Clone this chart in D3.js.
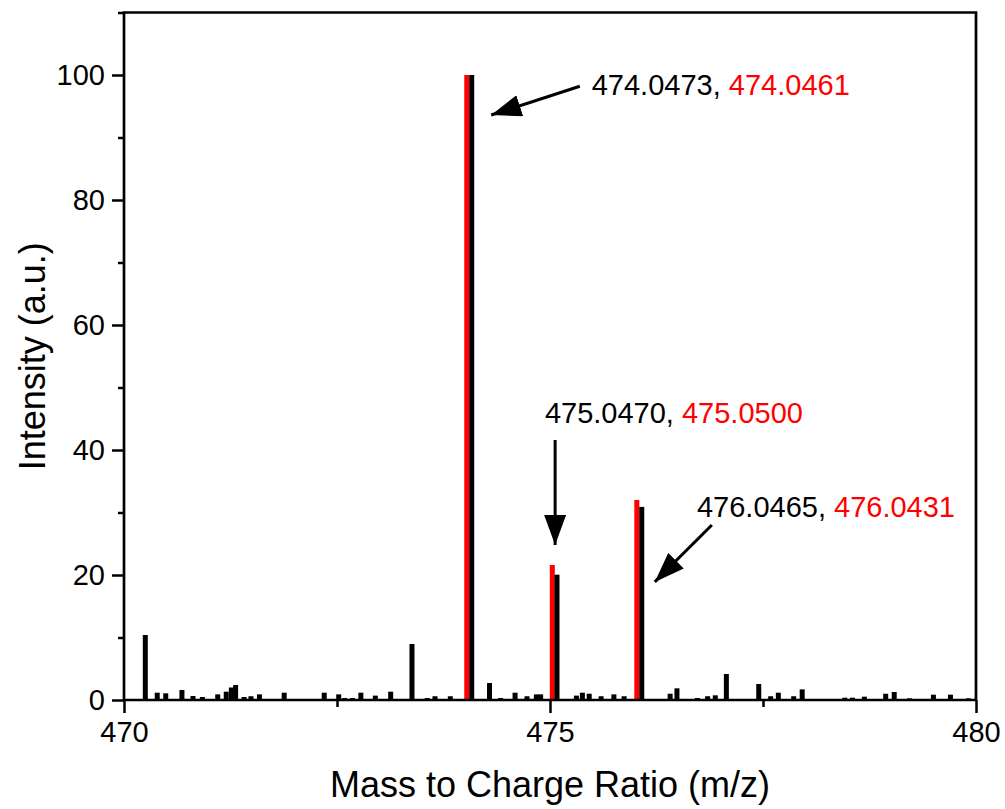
<!DOCTYPE html>
<html>
<head>
<meta charset="utf-8">
<script src="https://cdn.jsdelivr.net/npm/d3@7"></script>
<style>
  body { margin: 0; background: #fff; }
  svg { display: block; font-family: "Liberation Sans", Arial, sans-serif; }
</style>
</head>
<body>
<div class="main"></div>
<script>
// measured spectrum (black) - small peaks
var noiseMz = [470.25, 470.39, 470.49, 470.68, 470.81, 470.92, 471.10, 471.20, 471.26, 471.31,
    471.41, 471.49, 471.59, 471.88, 472.35, 472.52, 472.59, 472.68, 472.78, 472.95,
    473.13, 473.38, 473.56, 473.65, 473.83, 474.29, 474.42, 474.59, 474.73, 474.84,
    474.89, 475.31, 475.38, 475.46, 475.60, 475.75, 475.87, 476.41, 476.49, 476.73,
    476.85, 476.94, 477.07, 477.45, 477.59, 477.68, 477.86, 477.96, 478.46, 478.55,
    478.69, 478.94, 479.04, 479.22, 479.50, 479.70, 479.91]
var noiseInt = [10.4, 1.17, 1.07, 1.6, 0.64, 0.48, 0.9, 1.33, 2.0, 2.4,
    0.48, 0.6, 0.9, 1.17, 1.17, 0.9, 0.32, 0.32, 1.17, 0.7,
    1.33, 8.96, 0.32, 0.6, 0.6, 2.72, 0.32, 1.17, 0.6, 0.9,
    0.9, 0.7, 1.17, 1.0, 0.6, 0.9, 0.6, 1.0, 1.87, 0.32,
    0.6, 0.75, 4.16, 2.56, 0.6, 1.17, 0.6, 1.7, 0.37, 0.37,
    0.53, 1.0, 1.28, 0.27, 0.85, 0.85, 0.27]

// isotope peaks: measured (black) and simulated (red)
var expMz = [474.081, 475.082, 476.077]
var expInt = [100, 20.05, 30.9]
var simMz = [474.023, 475.027, 476.019]
var simInt = [100, 21.6, 32]

// annotation labels
var labelExp = ["474.0473", "475.0470", "476.0465"]
var labelSim = ["474.0461", "475.0500", "476.0431"]
var labelPos = [[475.49, 96.8], [474.94, 44.3], [476.725, 29.3]]
var arrowFrom = [[475.35, 98.2], [475.06, 41.6], [476.90, 28.0]]
var arrowTo = [[474.31, 93.6], [475.06, 24.8], [476.23, 18.9]]

var xTicks = [470, 475, 480]
var xMinor = [472.5, 477.5]
var yTicks = [0, 20, 40, 60, 80, 100]
var yMinor = [10, 30, 50, 70, 90, 110]

var width = 1005, height = 809
var mLeft = 124, mRight = 976, mTop = 12.5, mBottom = 700
var barW = 5

var svg = d3.select("div.main").append("svg")
    .attr("width", width)
    .attr("height", height)

var x = d3.scaleLinear().domain([470, 480]).range([mLeft, mRight])
var y = d3.scaleLinear().domain([0, 110]).range([mBottom, mTop])

svg.append("defs").append("marker")
    .attr("id", "head")
    .attr("viewBox", "0 0 30 22")
    .attr("refX", 30).attr("refY", 11)
    .attr("markerWidth", 30).attr("markerHeight", 22)
    .attr("markerUnits", "userSpaceOnUse")
    .attr("orient", "auto")
    .append("path").attr("d", "M0,0L30,11L0,22Z").attr("fill", "black")

// small peaks
svg.append("g").selectAll("rect")
    .data(noiseMz)
    .enter().append("rect")
    .attr("x", function (d) { return x(d) - barW / 2 })
    .attr("width", barW)
    .attr("y", function (d, i) { return y(noiseInt[i]) })
    .attr("height", function (d, i) { return y(0) - y(noiseInt[i]) })
    .attr("fill", "black")

// simulated
svg.append("g").selectAll("rect")
    .data(simMz)
    .enter().append("rect")
    .attr("x", function (d) { return x(d) - barW / 2 })
    .attr("width", barW)
    .attr("y", function (d, i) { return y(simInt[i]) })
    .attr("height", function (d, i) { return y(0) - y(simInt[i]) })
    .attr("fill", "#ff0000")

// measured
svg.append("g").selectAll("rect")
    .data(expMz)
    .enter().append("rect")
    .attr("x", function (d) { return x(d) - barW / 2 })
    .attr("width", barW)
    .attr("y", function (d, i) { return y(expInt[i]) })
    .attr("height", function (d, i) { return y(0) - y(expInt[i]) })
    .attr("fill", "black")

// axes
svg.append("g").attr("transform", "translate(0," + mBottom + ")")
    .call(d3.axisBottom(x).tickValues(xTicks).tickSize(13).tickPadding(8).tickFormat(d3.format("d")))
svg.append("g").attr("transform", "translate(0," + mBottom + ")")
    .call(d3.axisBottom(x).tickValues(xMinor).tickSize(7).tickFormat(""))
svg.append("g").attr("transform", "translate(" + mLeft + ",0)")
    .call(d3.axisLeft(y).tickValues(yTicks).tickSize(12).tickPadding(7))
svg.append("g").attr("transform", "translate(" + mLeft + ",0)")
    .call(d3.axisLeft(y).tickValues(yMinor).tickSize(6).tickFormat(""))

svg.selectAll(".domain").remove()
svg.selectAll(".tick line").attr("stroke", "black").attr("stroke-width", 2.5)
svg.selectAll(".tick text").attr("fill", "black").style("font-size", "29px")
    .style("font-family", "Liberation Sans, Arial, sans-serif")

// frame
svg.append("path")
    .attr("d", "M" + mLeft + "," + mBottom + "V" + mTop + "H" + mRight + "V" + mBottom + "H" + mLeft)
    .attr("fill", "none")
    .attr("stroke", "black")
    .attr("stroke-width", 2.7)

// titles
svg.append("text")
    .attr("x", (mLeft + mRight) / 2)
    .attr("y", 797)
    .attr("text-anchor", "middle")
    .style("font-size", "36px")
    .text("Mass to Charge Ratio (m/z)")

svg.append("text")
    .attr("transform", "translate(45," + ((mTop + mBottom) / 2) + ") rotate(-90)")
    .attr("text-anchor", "middle")
    .style("font-size", "36px")
    .text("Intensity (a.u.)")

// annotations
var ann = svg.append("g").selectAll("text")
    .data(labelPos)
    .enter().append("text")
    .attr("x", function (d) { return x(d[0]) })
    .attr("y", function (d) { return y(d[1]) })
    .style("font-size", "29px")
ann.append("tspan").attr("fill", "black").text(function (d, i) { return labelExp[i] + ", " })
ann.append("tspan").attr("fill", "#ff0000").text(function (d, i) { return labelSim[i] })

svg.append("g").selectAll("line")
    .data(arrowFrom)
    .enter().append("line")
    .attr("x1", function (d) { return x(d[0]) })
    .attr("y1", function (d) { return y(d[1]) })
    .attr("x2", function (d, i) { return x(arrowTo[i][0]) })
    .attr("y2", function (d, i) { return y(arrowTo[i][1]) })
    .attr("stroke", "black")
    .attr("stroke-width", 3)
    .attr("marker-end", "url(#head)")
</script>
</body>
</html>
